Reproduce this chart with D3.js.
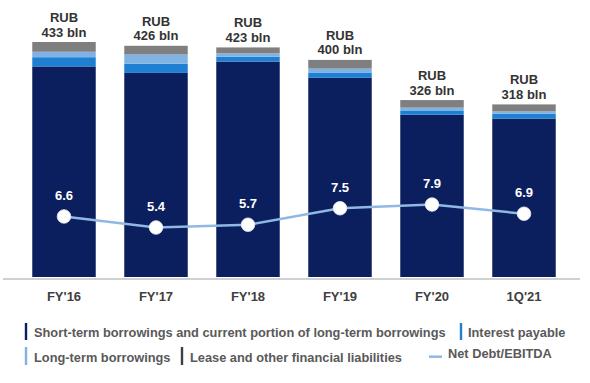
<!DOCTYPE html>
<html><head><meta charset="utf-8">
<script src="https://cdn.jsdelivr.net/npm/d3@7"></script>
<style>
html,body{margin:0;padding:0;background:#fff;}
svg{display:block;font-family:"Liberation Sans",Arial,sans-serif;}
</style></head>
<body>
<svg id="c" width="590" height="383"></svg>
<script>
const categories = ["FY'16","FY'17","FY'18","FY'19","FY'20","1Q'21"];
const shortTerm = [388, 376, 397, 367, 299, 292];
const interestPayable = [17, 17, 9, 9, 8, 9];
const longTerm = [10, 17, 6, 8, 5, 4];
const lease = [18, 16, 11, 16, 14, 13];
const totals = [433, 426, 423, 400, 326, 318];
const totalLabels = ["433 bln","426 bln","423 bln","400 bln","326 bln","318 bln"];
const netDebtEbitda = [6.6, 5.4, 5.7, 7.5, 7.9, 6.9];

const seriesKeys = ["shortTerm","interestPayable","longTerm","lease"];
const colors = {shortTerm:"#0b1f5e", interestPayable:"#1f80d3", longTerm:"#80b3e4", lease:"#7f7f7f"};
const lineColor = "#8fb9e2";

const rows = categories.map((c,i)=>({cat:c, shortTerm:shortTerm[i], interestPayable:interestPayable[i], longTerm:longTerm[i], lease:lease[i]}));

const svg = d3.select("#c");
const x = d3.scaleBand().domain(categories).range([18,570]).paddingInner(0.31).paddingOuter(0.155);
const yBar = d3.scaleLinear().domain([0,433]).range([277,42]);
const yLine = d3.scaleLinear().domain([0,10]).range([277,185.3]);

const stack = d3.stack().keys(seriesKeys)(rows);
svg.append("g").selectAll("g").data(stack).join("g")
  .attr("fill", d=>colors[d.key])
  .selectAll("rect").data(d=>d).join("rect")
  .attr("x", d=>x(d.data.cat))
  .attr("width", x.bandwidth())
  .attr("y", d=>yBar(d[1]))
  .attr("height", d=>yBar(d[0])-yBar(d[1]));

// axis
const axis = svg.append("g").attr("transform","translate(0,279)")
  .call(d3.axisBottom(x).tickSize(0).tickPadding(13));
axis.select(".domain").attr("stroke","#d0d0d0").attr("stroke-width",2).attr("d","M3,0H580");
axis.selectAll("text").attr("font-size",13).attr("font-weight","bold").attr("fill","#404040")
  .attr("font-family","'Liberation Sans',Arial,sans-serif");

// total labels
const tl = svg.append("g");
categories.forEach((c,i)=>{
  const cx = x(c)+x.bandwidth()/2, top = yBar(totals[i]);
  tl.append("text").attr("x",cx).attr("y",top-20).attr("text-anchor","middle")
    .attr("font-size",13).attr("font-weight","bold").attr("fill","#333").text("RUB");
  tl.append("text").attr("x",cx).attr("y",top-5.5).attr("text-anchor","middle")
    .attr("font-size",13).attr("font-weight","bold").attr("fill","#333").text(totalLabels[i]);
});

// line
const line = d3.line().x((d,i)=>x(categories[i])+x.bandwidth()/2).y(d=>yLine(d));
svg.append("path").datum(netDebtEbitda).attr("d",line).attr("fill","none")
  .attr("stroke",lineColor).attr("stroke-width",2.5);
svg.append("g").selectAll("circle").data(netDebtEbitda).join("circle")
  .attr("cx",(d,i)=>x(categories[i])+x.bandwidth()/2).attr("cy",d=>yLine(d)).attr("r",6.8)
  .attr("fill","#fff").attr("stroke","#e8eef6").attr("stroke-width",0.8);
svg.append("g").selectAll("text").data(netDebtEbitda).join("text")
  .attr("x",(d,i)=>x(categories[i])+x.bandwidth()/2).attr("y",d=>yLine(d)-16.5)
  .attr("text-anchor","middle").attr("font-size",13).attr("font-weight","bold").attr("fill","#fff")
  .text(d=>d.toFixed(1));

// legend
const lg = svg.append("g").attr("font-size",12.8).attr("font-weight","bold").attr("fill","#595959");
function swatch(xp, y0, y1, col){ lg.append("rect").attr("x",xp-1.2).attr("y",y0).attr("width",2.4).attr("height",y1-y0).attr("fill",col); }
swatch(26,323,340,colors.shortTerm);
lg.append("text").attr("x",34).attr("y",337).text("Short-term borrowings and current portion of long-term borrowings");
swatch(461,323,340,colors.interestPayable);
lg.append("text").attr("x",468).attr("y",337).text("Interest payable");
swatch(26,347,365,colors.longTerm);
lg.append("text").attr("x",34).attr("y",361.5).text("Long-term borrowings");
swatch(182,347,365,"#404040");
lg.append("text").attr("x",190).attr("y",361.5).text("Lease and other financial liabilities");
lg.append("line").attr("x1",429).attr("x2",442).attr("y1",356.7).attr("y2",356.7).attr("stroke",lineColor).attr("stroke-width",2.5);
lg.append("text").attr("x",448).attr("y",358).text("Net Debt/EBITDA");
</script>
</body></html>
